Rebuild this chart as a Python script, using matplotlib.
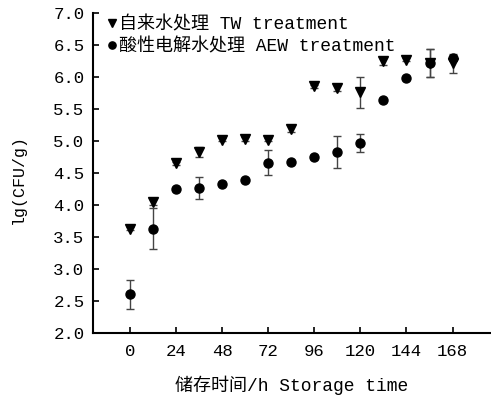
import numpy as np
import matplotlib
matplotlib.use("Agg")
import matplotlib.pyplot as plt

plt.rcParams['font.family'] = ['Liberation Mono', 'Noto Sans CJK SC']

hours = [0, 12, 24, 36, 48, 60, 72, 84, 96, 108, 120, 132, 144, 156, 168]

tw_mean = [3.63, 4.04, 4.65, 4.83, 5.02, 5.03, 5.02, 5.19, 5.85, 5.83, 5.76, 6.24, 6.27, 6.22, 6.21]
tw_err = [0.02, 0.05, 0.02, 0.08, 0.03, 0.03, 0.03, 0.05, 0.02, 0.05, 0.24, 0.05, 0.03, 0.22, 0.15]

aew_mean = [2.60, 3.63, 4.25, 4.26, 4.33, 4.39, 4.66, 4.67, 4.75, 4.83, 4.96, 5.64, 5.98, 6.22, 6.30]
aew_err = [0.22, 0.32, 0.02, 0.17, 0.02, 0.02, 0.20, 0.02, 0.03, 0.25, 0.14, 0.02, 0.02, 0.22, 0.03]

tw_label = '自来水处理 TW treatment'
aew_label = '酸性电解水处理 AEW treatment'

fig = plt.figure(figsize=(4.91, 4.01), dpi=100)
ax = fig.add_axes([0.189, 0.170, 0.811, 0.798])

ax.errorbar(hours, tw_mean, yerr=tw_err, fmt='v', color='black', ms=6.5,
            ecolor='#444444', elinewidth=1, capsize=3, capthick=1, label=tw_label)
ax.errorbar(hours, aew_mean, yerr=aew_err, fmt='o', color='black', ms=6.5,
            ecolor='#444444', elinewidth=1, capsize=3, capthick=1, label=aew_label)

ax.set_xlim(-19.3, 188)
ax.set_ylim(2.0, 7.0)
ax.set_xticks([0, 24, 48, 72, 96, 120, 144, 168])
ax.set_yticks(np.arange(2.0, 7.01, 0.5))
ax.set_yticklabels(['%.1f' % v for v in np.arange(2.0, 7.01, 0.5)])
ax.tick_params(direction='in', length=4, width=1.2, labelsize=12.5)
ax.tick_params(axis='x', pad=8)
ax.tick_params(axis='y', pad=6)

for s in ['top', 'right']:
    ax.spines[s].set_visible(False)
for s in ['left', 'bottom']:
    ax.spines[s].set_linewidth(1.5)

ax.set_xlabel('储存时间/h Storage time', fontsize=13, labelpad=12)
ax.set_ylabel('lg(CFU/g)', fontsize=12)
ax.yaxis.set_label_coords(-0.168, 0.48)

handles, labels = ax.get_legend_handles_labels()
handles = [h[0] for h in handles]
ax.legend(handles, labels, loc='upper left', bbox_to_anchor=(0.02, 1.012),
          frameon=False, handlelength=0.5, handletextpad=0.1, markerscale=0.8,
          labelspacing=0.28, fontsize=13, borderaxespad=0)

fig.savefig('out.png', dpi=100)
